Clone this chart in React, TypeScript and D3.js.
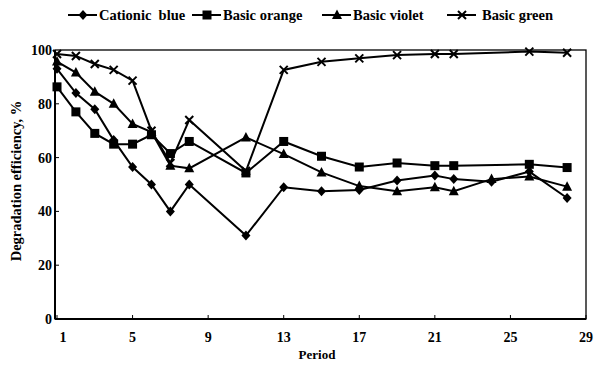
import React, { useEffect, useRef } from "react";
import * as d3 from "d3";

// values
const bluePeriods = [1, 2, 3, 4, 5, 6, 7, 8, 11, 13, 15, 17, 19, 21, 22, 24, 26, 28];
const cationicBlue = [93, 84, 78, 66.5, 56.5, 50, 40, 50, 31, 49, 47.5, 48, 51.5, 53.3, 52, 51, 54.8, 45];

const orangePeriods = [1, 2, 3, 4, 5, 6, 7, 8, 11, 13, 15, 17, 19, 21, 22, 26, 28];
const basicOrange = [86.3, 77, 69, 65, 65, 68.5, 61.5, 66, 54.3, 66, 60.5, 56.5, 58, 57, 57, 57.5, 56.3];

const violetPeriods = [1, 2, 3, 4, 5, 6, 7, 8, 11, 13, 15, 17, 19, 21, 22, 24, 26, 28];
const basicViolet = [95.7, 91.6, 84.5, 80, 72.5, 69.5, 57, 56, 67.5, 61.3, 54.5, 49.4, 47.5, 49, 47.5, 52, 53, 49.2];

const greenPeriods = [1, 2, 3, 4, 5, 6, 7, 8, 11, 13, 15, 17, 19, 21, 22, 26, 28];
const basicGreen = [98.5, 97.8, 94.8, 92.6, 88.6, 70, 58, 74, 55, 92.6, 95.6, 96.9, 98.1, 98.5, 98.5, 99.4, 99];

const seriesNames = ["Cationic  blue", "Basic orange", "Basic violet", "Basic green"];
const xTicks = [1, 5, 9, 13, 17, 21, 25, 29];
const yTicks = [0, 20, 40, 60, 80, 100];

const FONT = "'Liberation Serif', 'DejaVu Serif', serif";

export default function App() {
  const ref = useRef<SVGSVGElement | null>(null);

  useEffect(() => {
    const svg = d3.select(ref.current);
    svg.selectAll("*").remove();

    const left = 55, right = 586, top = 50, bottom = 319;

    const x = d3.scaleLinear().domain([0.894, 29]).range([left, right]);
    const y = d3.scaleLinear().domain([0, 100]).range([bottom, top]);

    const series = [
      { name: seriesNames[0], periods: bluePeriods, values: cationicBlue, marker: "diamond" },
      { name: seriesNames[1], periods: orangePeriods, values: basicOrange, marker: "square" },
      { name: seriesNames[2], periods: violetPeriods, values: basicViolet, marker: "triangle" },
      { name: seriesNames[3], periods: greenPeriods, values: basicGreen, marker: "cross" },
    ];

    const g = svg.append("g");

    // frame
    g.append("rect")
      .attr("x", left)
      .attr("y", top)
      .attr("width", right - left)
      .attr("height", bottom - top)
      .attr("fill", "none")
      .attr("stroke", "#000")
      .attr("stroke-width", 1.3);
    g.append("line")
      .attr("x1", left).attr("x2", left)
      .attr("y1", top).attr("y2", bottom)
      .attr("stroke", "#000").attr("stroke-width", 2);
    g.append("line")
      .attr("x1", left).attr("x2", right)
      .attr("y1", bottom).attr("y2", bottom)
      .attr("stroke", "#000").attr("stroke-width", 2);

    // ticks
    g.selectAll(".xtick")
      .data(xTicks)
      .enter()
      .append("line")
      .attr("x1", (d) => x(d)).attr("x2", (d) => x(d))
      .attr("y1", bottom).attr("y2", bottom - 4)
      .attr("stroke", "#000").attr("stroke-width", 1);
    g.selectAll(".xlabel")
      .data(xTicks)
      .enter()
      .append("text")
      .attr("x", (d, i) => x(d) + (i === 0 ? 6 : 0))
      .attr("y", 342)
      .attr("text-anchor", "middle")
      .attr("font-family", FONT)
      .attr("font-weight", "bold")
      .attr("font-size", 14)
      .text((d) => d);

    g.selectAll(".ytick")
      .data(yTicks.filter((d) => d > 0 && d < 100))
      .enter()
      .append("line")
      .attr("x1", left).attr("x2", left + 4)
      .attr("y1", (d) => y(d)).attr("y2", (d) => y(d))
      .attr("stroke", "#000").attr("stroke-width", 1);
    g.selectAll(".ylabel")
      .data(yTicks)
      .enter()
      .append("text")
      .attr("x", left - 3)
      .attr("y", (d) => y(d) + 5)
      .attr("text-anchor", "end")
      .attr("font-family", FONT)
      .attr("font-weight", "bold")
      .attr("font-size", 14)
      .text((d) => d);

    // axis titles
    g.append("text")
      .attr("x", 317)
      .attr("y", 359)
      .attr("text-anchor", "middle")
      .attr("font-family", FONT)
      .attr("font-weight", "bold")
      .attr("font-size", 13)
      .text("Period");
    g.append("text")
      .attr("transform", "translate(21,181) rotate(-90)")
      .attr("text-anchor", "middle")
      .attr("font-family", FONT)
      .attr("font-weight", "bold")
      .attr("font-size", 14.5)
      .text("Degradation efficiency, %");

    const drawMarker = (sel: any, type: string, cx: number, cy: number) => {
      if (type === "diamond") {
        sel.append("path")
          .attr("d", `M${cx},${cy - 5}L${cx + 4.5},${cy}L${cx},${cy + 5}L${cx - 4.5},${cy}Z`)
          .attr("fill", "#000");
      } else if (type === "square") {
        sel.append("rect")
          .attr("x", cx - 4.5).attr("y", cy - 4.5)
          .attr("width", 9).attr("height", 9)
          .attr("fill", "#000");
      } else if (type === "triangle") {
        sel.append("path")
          .attr("d", `M${cx},${cy - 5.5}L${cx + 5},${cy + 4}L${cx - 5},${cy + 4}Z`)
          .attr("fill", "#000");
      } else {
        sel.append("path")
          .attr("d", `M${cx - 4},${cy - 4}L${cx + 4},${cy + 4}M${cx + 4},${cy - 4}L${cx - 4},${cy + 4}`)
          .attr("stroke", "#000")
          .attr("stroke-width", 2);
      }
    };

    const line = d3
      .line<[number, number]>()
      .x((d) => x(d[0]))
      .y((d) => y(d[1]));

    series.forEach((s) => {
      const pts: [number, number][] = s.periods.map((p, i) => [p, s.values[i]]);
      g.append("path")
        .datum(pts)
        .attr("fill", "none")
        .attr("stroke", "#000")
        .attr("stroke-width", 2)
        .attr("d", line);
      const mg = g.append("g");
      pts.forEach((p) => drawMarker(mg, s.marker, x(p[0]), y(p[1])));
    });

    // legend
    const legendX = [68, 192, 322, 447];
    const legendY = 15;
    series.forEach((s, i) => {
      const lg = g.append("g");
      const lx = legendX[i];
      lg.append("line")
        .attr("x1", lx).attr("x2", lx + 29)
        .attr("y1", legendY).attr("y2", legendY)
        .attr("stroke", "#000").attr("stroke-width", 2);
      drawMarker(lg, s.marker, lx + 15, legendY);
      lg.append("text")
        .attr("x", lx + (i === 3 ? 35 : 31))
        .attr("y", legendY + 5)
        .attr("font-family", FONT)
        .attr("font-weight", "bold")
        .attr("font-size", 14.5)
        .style("white-space", "pre")
        .text(s.name);
    });
  }, []);

  return (
    <svg
      ref={ref}
      width={598}
      height={365}
      style={{ position: "absolute", left: 0, top: 0, background: "#fff" }}
    />
  );
}
